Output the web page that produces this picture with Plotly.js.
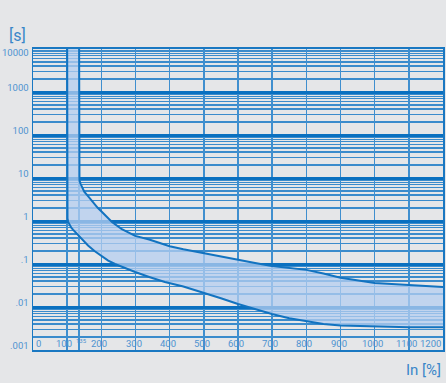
<!DOCTYPE html>
<html>
<head>
<meta charset="utf-8">
<script src="https://cdn.plot.ly/plotly-3.0.1.min.js"></script>
<style>
html,body{margin:0;padding:0;background:#e5e6e8;}
#chart{width:446px;height:383px;}
</style>
</head>
<body>
<div id="chart"></div>
<script>
// Lower (left) boundary of the tripping band
var lowerX = [100,100,101,103,107,112,117,125,138,150,161,180,202,220,240,270,299,340,386,440,497,550,600,650,699,750,800,850,900,1000,1100,1200];
var lowerY = [10000,1.5,1.15,0.95,0.8,0.7,0.63,0.54,0.43,0.33,0.27,0.2,0.15,0.12,0.1,0.08,0.065,0.05,0.038,0.03,0.022,0.016,0.0117,0.0088,0.0069,0.0055,0.0046,0.004,0.0037,0.0035,0.0034,0.0034];
// Upper (right) boundary of the tripping band
var upperX = [135,135,136,139,144,150,161,175,190,202,215,231,260,299,340,386,400,440,497,550,600,650,699,750,800,850,900,1000,1100,1200];
var upperY = [10000,11,8.8,7.4,6,4.8,3.8,2.7,2.0,1.62,1.3,0.95,0.65,0.45,0.37,0.28,0.26,0.22,0.18,0.145,0.124,0.105,0.09,0.082,0.073,0.06,0.048,0.036,0.032,0.029];

var xTickVals = [0,100,135,200,300,400,500,600,700,800,900,1000,1100,1200];
var xTickText = ['0','100','135','200','300','400','500','600','700','800','900','1000','1100','1200'];
var yTickVals = [0.001,0.01,0.1,1,10,100,1000,10000];
var yTickText = ['.001','.01','.1','1','10','100','1000','10000'];

var FONT = "Roboto, 'Liberation Sans', sans-serif";
var labelColor = '#4f93d0';
var lineColor = '#1273c0';

var polyX = lowerX.concat(upperX.slice().reverse());
var polyY = lowerY.concat(upperY.slice().reverse());

var traces = [
  {x: polyX, y: polyY, type: 'scatter', mode: 'lines', fill: 'toself',
   fillcolor: 'rgba(180,206,240,0.75)', line: {width: 0}, hoverinfo: 'skip'},
  {x: lowerX, y: lowerY, type: 'scatter', mode: 'lines', line: {color: lineColor, width: 2}},
  {x: upperX, y: upperY, type: 'scatter', mode: 'lines', line: {color: lineColor, width: 2}}
];

var annotations = [];
for (var i = 0; i < xTickVals.length; i++) {
  var v = xTickVals[i];
  var small = (v === 135);
  annotations.push({
    x: v, xref: 'x', y: small ? 0.03 : 0.02, yref: 'paper',
    text: xTickText[i], showarrow: false,
    xanchor: v === 0 ? 'left' : (v === 1200 ? 'right' : 'center'),
    xshift: v === 0 ? 1 : (v === 1200 ? 0 : (small ? 2 : (v === 100 ? -3 : -2))),
    yanchor: 'middle',
    font: {family: FONT, size: small ? 6 : 9.5, color: labelColor}
  });
}
// the top tick label sits just below the top edge
var yLabelText = yTickText.slice(0, yTickText.length - 1).concat(['']);
annotations.push({x: -0.004, xref: 'paper', y: Math.log10(yTickVals[yTickVals.length - 1]), yref: 'y',
  text: yTickText[yTickText.length - 1], showarrow: false, xanchor: 'right', yanchor: 'middle', yshift: -3,
  font: {family: FONT, size: 9.5, color: labelColor}});
annotations.push({x: -0.063, xref: 'paper', y: 1.045, yref: 'paper', text: '[s]', showarrow: false,
  xanchor: 'left', yanchor: 'middle', font: {family: FONT, size: 16, color: '#3a86c8'}});
annotations.push({x: 1.0, xref: 'paper', y: -0.066, yref: 'paper', text: 'In [%]', showarrow: false,
  xanchor: 'right', yanchor: 'middle', font: {family: FONT, size: 15, color: '#3a86c8'}});

var layout = {
  width: 446, height: 383,
  margin: {l: 33, r: 3, t: 49, b: 33},
  paper_bgcolor: '#e5e6e8', plot_bgcolor: '#e5e6e8',
  showlegend: false,
  xaxis: {
    range: [0, 1200], tickvals: xTickVals, showticklabels: false, ticks: '',
    showgrid: true, gridcolor: '#3f8fcf', gridwidth: 1.5, zeroline: false,
    showline: true, mirror: true, linecolor: '#1a78c2', linewidth: 2, fixedrange: true
  },
  yaxis: {
    type: 'log', range: [-3, 4], tickvals: yTickVals, ticktext: yLabelText, ticks: '',
    showgrid: true, gridcolor: '#0a70c0', gridwidth: 3, zeroline: false,
    minor: {dtick: 'D1', showgrid: true, gridcolor: '#3a8bcc', gridwidth: 1.3, ticks: ''},
    tickfont: {family: FONT, size: 9.5, color: labelColor},
    ticklabelshift: -4, ticklabelstandoff: 1,
    showline: true, mirror: true, linecolor: '#1a78c2', linewidth: 1.5, fixedrange: true
  },
  shapes: [
    {type: 'rect', xref: 'paper', yref: 'paper', x0: 0, x1: 1, y0: 0, y1: 0.040,
     fillcolor: '#e5e6e8', line: {width: 0}, layer: 'between'}
  ],
  annotations: annotations
};

Plotly.newPlot('chart', traces, layout, {staticPlot: true, displayModeBar: false});
</script>
</body>
</html>
